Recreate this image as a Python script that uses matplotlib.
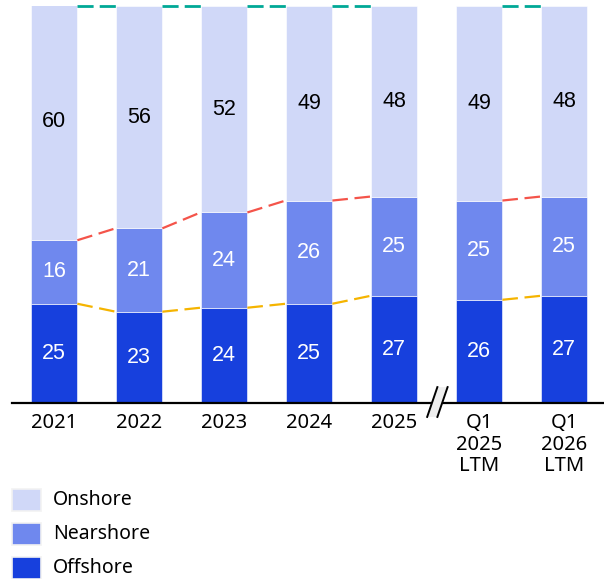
import matplotlib
matplotlib.use('Agg')
import matplotlib.pyplot as plt
from matplotlib.patches import Rectangle, Polygon
import numpy as np

years = ['2021', '2022', '2023', '2024', '2025', 'Q1\n2025\nLTM', 'Q1\n2026\nLTM']
offshore = [25, 23, 24, 25, 27, 26, 27]
nearshore = [16, 21, 24, 26, 25, 25, 25]
onshore = [60, 56, 52, 49, 48, 49, 48]
groups = [[0, 1, 2, 3, 4], [5, 6]]   # bars joined by connector lines

c_on = '#D0D8F8'
c_near = '#6F88EE'
c_off = '#1740DD'

fig = plt.figure(figsize=(6.04, 5.79), dpi=100)
ax = fig.add_axes([12 / 604, 1 - 403 / 579, 592 / 604, 397 / 579])

x = np.arange(len(years))
w = 0.55
off = np.array(offshore)
near = np.array(nearshore)
on = np.array(onshore)

ax.bar(x, off, w, color=c_off, edgecolor='white', linewidth=0.4)
ax.bar(x, near, w, bottom=off, color=c_near, edgecolor='white', linewidth=0.4)
ax.bar(x, on, w, bottom=off + near, color=c_on, edgecolor='white', linewidth=0.4)

num_font = dict(family='Liberation Sans', fontsize=15.5, ha='center', va='center')
for i in x:
    ax.text(i, off[i] / 2, str(off[i]), color='white', **num_font)
    ax.text(i, off[i] + near[i] / 2, str(near[i]), color='white', **num_font)
    ax.text(i, off[i] + near[i] + on[i] / 2, str(on[i]), color='black', **num_font)

# dashed connectors between neighbouring bars
for g in groups:
    for a, b in zip(g[:-1], g[1:]):
        xs = [a + w / 2, b - w / 2]
        ax.plot(xs, [off[a], off[b]], color='#F5B400', lw=1.6, ls=(0, (7, 3)), zorder=3)
        ax.plot(xs, [off[a] + near[a], off[b] + near[b]], color='#F4544A', lw=1.6,
                ls=(0, (7, 3)), zorder=3)
        ax.plot(xs, [100, 100], color='#00A896', lw=2, ls=(0, (5.8, 2.2)), zorder=3,
                clip_on=False)

ax.set_xlim(-0.494, 6.47)
ax.set_ylim(0, 100)
for s in ['top', 'right', 'left']:
    ax.spines[s].set_visible(False)
ax.spines['bottom'].set_linewidth(1.6)
ax.spines['bottom'].set_color('black')
ax.set_yticks([])
ax.set_xticks(x)
ax.set_xticklabels(years, fontsize=14.5, family='Noto Sans', linespacing=1.08)
ax.tick_params(axis='x', length=0, pad=7.5)

# axis break mark
brk = Polygon([[4.39, -3.5], [4.51, 4.0], [4.63, 4.0], [4.51, -3.5]], closed=True,
              facecolor='#EEEEEE', edgecolor='none', clip_on=False, zorder=4)
ax.add_patch(brk)
ax.plot([4.39, 4.51], [-3.5, 4.0], color='black', lw=1.4, clip_on=False, zorder=5)
ax.plot([4.51, 4.63], [-3.5, 4.0], color='black', lw=1.4, clip_on=False, zorder=5)

# legend
legend_items = [('Onshore', c_on, 489), ('Nearshore', c_near, 523), ('Offshore', c_off, 557)]
for name, col, ytop in legend_items:
    fig.add_artist(Rectangle((12 / 604, 1 - (ytop + 22) / 579), 29 / 604, 22 / 579,
                             transform=fig.transFigure, facecolor=col,
                             edgecolor='#F2F2F2', linewidth=1.2))
    fig.text(53 / 604, 1 - (ytop + 11) / 579, name, fontsize=14, family='Noto Sans',
             va='center', ha='left')

plt.savefig('out.png', dpi=100)
